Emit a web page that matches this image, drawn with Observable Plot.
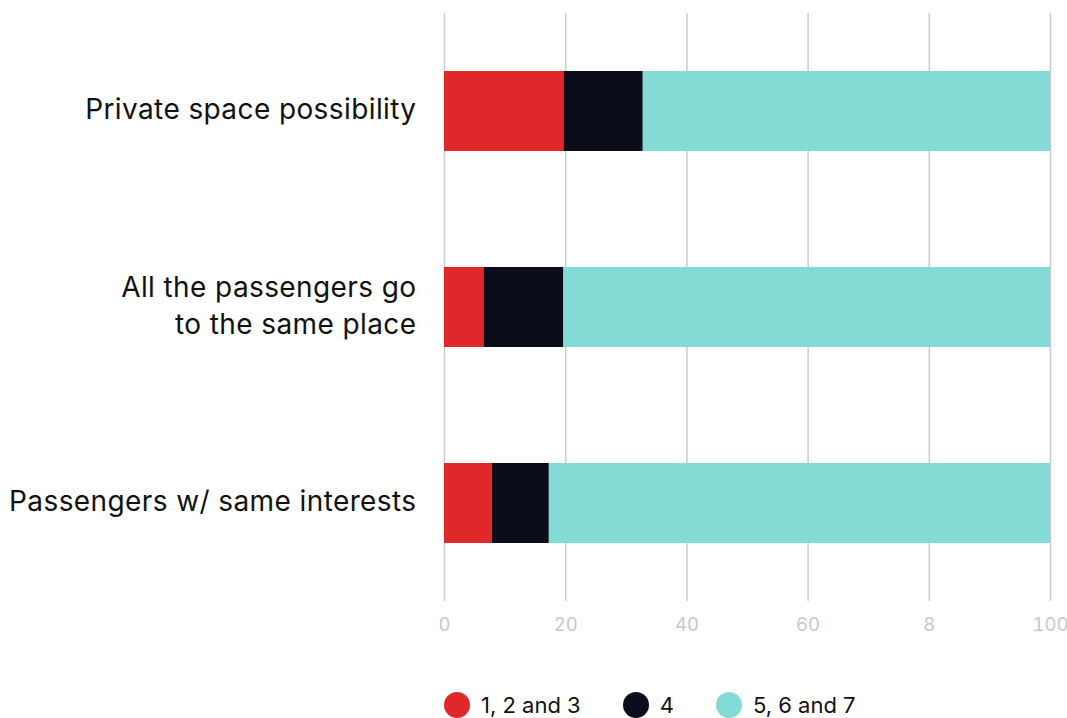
<!DOCTYPE html>
<html>
<head>
<meta charset="utf-8">
<script src="https://cdn.jsdelivr.net/npm/d3@7"></script>
<script src="https://cdn.jsdelivr.net/npm/@observablehq/plot@0.6"></script>
<style>
  html, body { margin: 0; padding: 0; background: #fff; overflow: hidden; }
  body { font-family: "Inter", "Open Sans", sans-serif; }
  #legend { display: flex; align-items: center; padding-left: 444px; padding-top: 42px; height: 26px; font-size: 22px; line-height: 26px; color: #111; }
  .item { display: flex; align-items: center; margin-right: 42px; }
  .sw { width: 26px; height: 26px; border-radius: 50%; margin-right: 11px; }
  g[aria-label="y-axis tick label"] text { letter-spacing: 0.4px; }
</style>
</head>
<body>
<div id="chart"></div>
<div id="legend"></div>
<script>
const categories = ["Private space possibility", "All the passengers go\nto the same place", "Passengers w/ same interests"];
const groups = ["1, 2 and 3", "4", "5, 6 and 7"];
const colors = ["#e0282a", "#0b0e1a", "#84dbd5"];
const low = [19.7, 6.5, 7.9];
const mid = [13.1, 13.2, 9.4];
const high = [67.2, 80.3, 82.7];
const xTicks = [0, 20, 40, 60, 80, 100];
const xTickLabels = ["0", "20", "40", "60", "8", "100"];

const series = [low, mid, high];
const data = [];
categories.forEach((c, i) => {
  groups.forEach((g, j) => data.push({category: c, group: g, value: series[j][i]}));
});

const chart = Plot.plot({
  width: 1067,
  height: 650,
  marginLeft: 444,
  marginRight: 17,
  marginTop: 13,
  marginBottom: 49,
  style: {fontFamily: "Inter, 'Open Sans', sans-serif", background: "#fff"},
  x: {domain: [0, 100]},
  y: {domain: categories, paddingInner: 0.592, paddingOuter: 0.296},
  color: {domain: groups, range: colors},
  marks: [
    Plot.gridX(xTicks, {stroke: "#cccccc", strokeOpacity: 1, strokeWidth: 1.5}),
    Plot.barX(data, {x: "value", y: "category", fill: "group", order: groups}),
    Plot.axisX(xTicks, {tickSize: 0, tickPadding: 16, fontSize: 18.5, fill: "#c8c8c8",
      tickFormat: d => xTickLabels[xTicks.indexOf(d)], label: null}),
    Plot.axisY({tickSize: 0, tickPadding: 28, fontSize: 28, fill: "#111", lineHeight: 1.33, dy: -4, label: null})
  ]
});
document.getElementById("chart").appendChild(chart);

const legend = document.getElementById("legend");
groups.forEach((g, i) => {
  const item = document.createElement("div");
  item.className = "item";
  const sw = document.createElement("span");
  sw.className = "sw";
  sw.style.background = colors[i];
  const t = document.createElement("span");
  t.textContent = g;
  item.appendChild(sw);
  item.appendChild(t);
  legend.appendChild(item);
});
</script>
</body>
</html>
